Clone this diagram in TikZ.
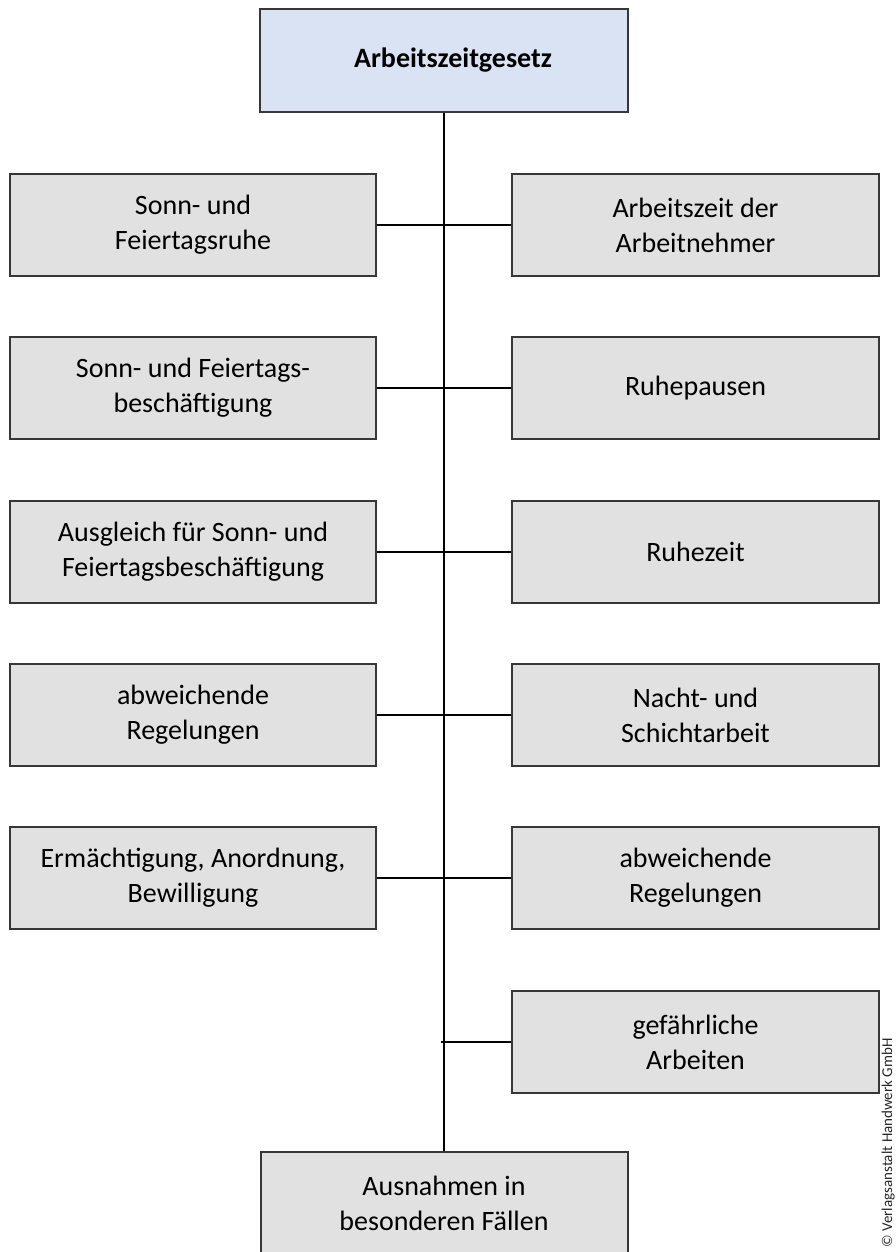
\documentclass[tikz,border=0pt]{standalone}
\usepackage{fontspec}
\setmainfont{Carlito}
\definecolor{boxgray}{RGB}{224,225,224}
\definecolor{boxblue}{RGB}{218,227,243}
\definecolor{edgegray}{RGB}{55,55,55}
\begin{document}
\begin{tikzpicture}[x=1pt,y=-1pt,
  box/.style={draw=edgegray, line width=2pt, fill=boxgray, minimum height=102pt,
    inner sep=0pt, align=center, font=\fontsize{28}{35}\selectfont},
  lbox/.style={box, minimum width=366pt},
  rbox/.style={box, minimum width=367pt},
  topbox/.style={box, fill=boxblue, minimum width=368pt, minimum height=103pt, font=\fontsize{28}{35}\selectfont\bfseries},
  conn/.style={draw=black, line width=1.6pt}]
\useasboundingbox (0,0) rectangle (896,1252);
\node[topbox] (top) at (444,60.5) {\hspace*{18pt}Arbeitszeitgesetz};
\node[lbox] (L1) at (193,225) {Sonn- und\\Feiertagsruhe};
\node[rbox] (R1) at (695.5,225) {Arbeitszeit der\\Arbeitnehmer};
\node[lbox] (L2) at (193,388) {Sonn- und Feiertags-\\beschäftigung};
\node[rbox] (R2) at (695.5,388) {Ruhepausen};
\node[lbox] (L3) at (193,552) {Ausgleich für Sonn- und\\Feiertagsbeschäftigung};
\node[rbox] (R3) at (695.5,552) {Ruhezeit};
\node[lbox] (L4) at (193,715) {abweichende\\Regelungen};
\node[rbox] (R4) at (695.5,715) {Nacht- und\\Schichtarbeit};
\node[lbox] (L5) at (193,878) {Ermächtigung, Anordnung,\\Bewilligung};
\node[rbox] (R5) at (695.5,878) {abweichende\\Regelungen};
\node[rbox] (R6) at (695.5,1042) {gefährliche\\Arbeiten};
\node[box, minimum width=367pt] (bot) at (444,1203) {Ausnahmen in\\besonderen Fällen};
\coordinate (s6) at (441,1042);
\draw[conn] (top.south) -- (bot.north);
\draw[conn] (L1.east) -- (R1.west);
\draw[conn] (L2.east) -- (R2.west);
\draw[conn] (L3.east) -- (R3.west);
\draw[conn] (L4.east) -- (R4.west);
\draw[conn] (L5.east) -- (R5.west);
\draw[conn] (s6) -- (R6.west);
\node[rotate=90, anchor=base, inner sep=0pt, font=\fontsize{15}{18}\selectfont, text=black!85] (copy) at (892,1143) {© Verlagsanstalt Handwerk GmbH};
\end{tikzpicture}
\end{document}
